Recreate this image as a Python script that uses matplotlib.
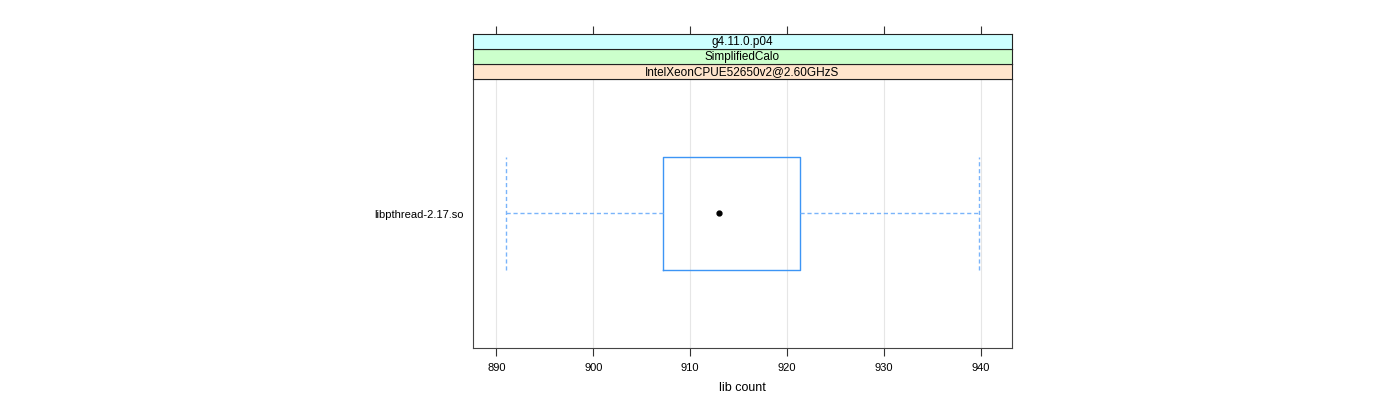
import matplotlib.pyplot as plt

plt.rcParams['font.family'] = ['Liberation Sans', 'DejaVu Sans']

# data
category = 'libpthread-2.17.so'
box_stats = {'whislo': 891.0, 'q1': 907.2, 'med': 913.0, 'q3': 921.3, 'whishi': 939.8}
x_ticks = [890, 900, 910, 920, 930, 940]
x_range = (887.6, 943.2)
strip_labels = ['g4.11.0.p04', 'SimplifiedCalo', 'IntelXeonCPUE52650v2@2.60GHzS']
strip_colors = ['#ccffff', '#ccffcc', '#ffe5cc']

fig = plt.figure(figsize=(14, 4), dpi=100)
ax = fig.add_axes([473 / 1400, 1 - 348 / 400, (1012 - 473) / 1400, (348 - 79) / 400])

stats = [dict(box_stats, label=category, fliers=[])]
box_col = '#3d95f5'
whisk_col = '#7ab4fa'
ax.bxp(stats, positions=[1], vert=False, widths=0.5, capwidths=0.5,
       showfliers=False,
       boxprops=dict(color=box_col, linewidth=1.0),
       whiskerprops=dict(color=whisk_col, linestyle=(0, (3, 2)), linewidth=1.0),
       capprops=dict(color=whisk_col, linestyle=(0, (3, 2)), linewidth=1.0),
       medianprops=dict(visible=False))
ax.plot([box_stats['med']], [1], 'o', color='black', markersize=3.5, zorder=5)

ax.set_xlim(*x_range)
ax.set_ylim(0.4, 1.6)
ax.set_xticks(x_ticks)
ax.set_yticks([1])
ax.set_yticklabels([category])
ax.tick_params(axis='y', length=0, labelsize=8, pad=7)
ax.tick_params(axis='x', length=6, labelsize=8, pad=5, color='#333333')
for x in x_ticks:
    ax.axvline(x, color='#e6e6e6', linewidth=0.8, zorder=0)
for s in ax.spines.values():
    s.set_color('#444444')
    s.set_linewidth(0.8)
ax.set_xlabel('lib count', fontsize=9, labelpad=6)

# strips on top of the panel
strip_h = 15 / 400
bottom = 1 - 79 / 400
for i, (lab, col) in enumerate(zip(reversed(strip_labels), reversed(strip_colors))):
    sax = fig.add_axes([473 / 1400, bottom + i * strip_h, (1012 - 473) / 1400, strip_h])
    sax.set_facecolor(col)
    sax.set_xlim(*x_range)
    sax.set_xticks([])
    sax.set_yticks([])
    for s in sax.spines.values():
        s.set_color('#222222')
        s.set_linewidth(0.8)
    sax.text(0.5, 0.45, lab, transform=sax.transAxes, ha='center', va='center', fontsize=8.5)
    if i == len(strip_labels) - 1:
        sax.set_xticks(x_ticks)
        sax.tick_params(axis='x', bottom=False, labelbottom=False, top=True,
                        labeltop=False, length=6, color='#333333')

fig.savefig('out.png', dpi=100)
